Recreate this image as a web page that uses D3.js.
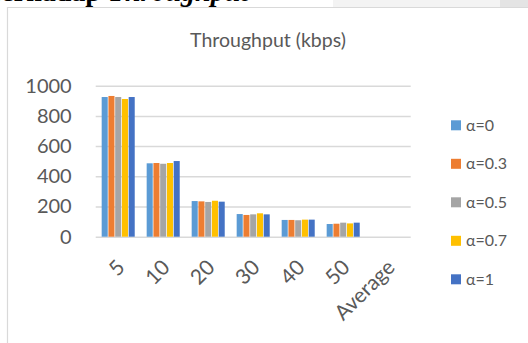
<!DOCTYPE html>
<html>
<head>
<meta charset="utf-8">
<script src="https://cdn.jsdelivr.net/npm/d3@7"></script>
<style>
  html, body { margin: 0; padding: 0; background: #ffffff; }
  svg { display: block; }
  text { font-family: Lato, "Open Sans", sans-serif; fill: #595959; }
</style>
</head>
<body>
<svg id="chart" width="528" height="343"></svg>
<script>
// Throughput per node count for each alpha setting
const categories = ["5", "10", "20", "30", "40", "50", "Average"];
const seriesNames = ["α=0", "α=0.3", "α=0.5", "α=0.7", "α=1"];
const alpha0  = [925, 486, 236, 150, 111, 84, null];
const alpha03 = [932, 488, 234, 144, 111, 86, null];
const alpha05 = [925, 483, 230, 148, 109, 93, null];
const alpha07 = [912, 488, 238, 155, 113, 88, null];
const alpha1  = [925, 501, 232, 148, 113, 93, null];
const yTicks = [0, 200, 400, 600, 800, 1000];
const colors = ["#5B9BD5", "#ED7D31", "#A5A5A5", "#FFC000", "#4472C4"];

const seriesValues = [alpha0, alpha03, alpha05, alpha07, alpha1];

const svg = d3.select("#chart");
const W = 528, H = 343;

// surrounding page fragments: heading line above the chart and a shaded strip
svg.append("rect").attr("x", 333).attr("y", 0).attr("width", 167).attr("height", 7).attr("fill", "#f3f3f3");
svg.append("rect").attr("x", 500).attr("y", 0).attr("width", 28).attr("height", 7).attr("fill", "#e4e4e4");
const heading = svg.append("text")
  .attr("x", 248).attr("y", 1)
  .attr("text-anchor", "end")
  .style("font-family", "'Liberation Serif', serif")
  .style("font-size", "28px")
  .style("font-weight", "bold")
  .style("fill", "#000");
heading.append("tspan").text("Terhadap ");
heading.append("tspan").style("font-style", "italic").text("Throughput");

// chart frame
svg.append("line").attr("x1", 7).attr("x2", W).attr("y1", 7.5).attr("y2", 7.5)
  .attr("stroke", "#d9d9d9").attr("stroke-width", 1.2);
svg.append("line").attr("x1", 7.5).attr("x2", 7.5).attr("y1", 7).attr("y2", H)
  .attr("stroke", "#d9d9d9").attr("stroke-width", 1.2);

// title
svg.append("text")
  .attr("x", 268).attr("y", 47)
  .attr("text-anchor", "middle")
  .style("font-size", "19.5px")
  .text("Throughput (kbps)");

// scales
const plot = { left: 95.7, right: 410.7, top: 85.7, bottom: 236.7 };
const x0 = d3.scaleBand().domain(categories)
  .range([plot.left, plot.right]).paddingInner(0.25).paddingOuter(0.125);
const x1 = d3.scaleBand().domain(d3.range(seriesNames.length))
  .range([0, x0.bandwidth()]);
const y = d3.scaleLinear().domain([0, 1000]).range([plot.bottom, plot.top]);

// gridlines and value labels
const yAxis = svg.append("g")
  .attr("transform", `translate(${plot.left},0)`)
  .call(d3.axisLeft(y).tickValues(yTicks).tickFormat(d3.format("d"))
    .tickSize(-(plot.right - plot.left)).tickPadding(24));
yAxis.select(".domain").remove();
yAxis.selectAll(".tick line").attr("stroke", "#d9d9d9").attr("stroke-width", 1.5);
yAxis.selectAll(".tick text")
  .style("font-size", "20px").style("font-family", "Lato, sans-serif").attr("fill", "#595959");

// bars
const groups = svg.append("g").selectAll("g")
  .data(categories.map((c, i) => ({ c, i })))
  .join("g")
  .attr("transform", d => `translate(${x0(d.c)},0)`);
groups.selectAll("rect")
  .data(d => seriesValues.map((vals, s) => ({ s, v: vals[d.i] })).filter(e => e.v != null))
  .join("rect")
  .attr("x", d => x1(d.s) + 0.35)
  .attr("width", x1.bandwidth() - 0.7)
  .attr("y", d => y(d.v))
  .attr("height", d => y(0) - y(d.v))
  .attr("fill", d => colors[d.s]);

// category labels
const xAxis = svg.append("g")
  .attr("transform", `translate(0,${plot.bottom})`)
  .call(d3.axisBottom(x0).tickSize(0).tickPadding(0));
xAxis.select(".domain").remove();
xAxis.selectAll(".tick text")
  .style("font-size", "21px").style("font-family", "Lato, sans-serif").attr("fill", "#595959")
  .attr("text-anchor", "end")
  .attr("dy", null)
  .attr("transform", "translate(2,26) rotate(-45)")
  .attr("y", 0).attr("x", 0)
  .attr("dominant-baseline", "central");

// legend
const legend = svg.append("g").selectAll("g")
  .data(seriesNames)
  .join("g")
  .attr("transform", (d, i) => `translate(451,${125.3 + i * 38.5})`);
legend.append("rect")
  .attr("x", 0).attr("y", -5).attr("width", 10).attr("height", 10)
  .attr("fill", (d, i) => colors[i]);
legend.append("text")
  .attr("x", 15).attr("y", 0).attr("dy", "0.35em")
  .style("font-size", "16px")
  .text(d => d);
</script>
</body>
</html>
